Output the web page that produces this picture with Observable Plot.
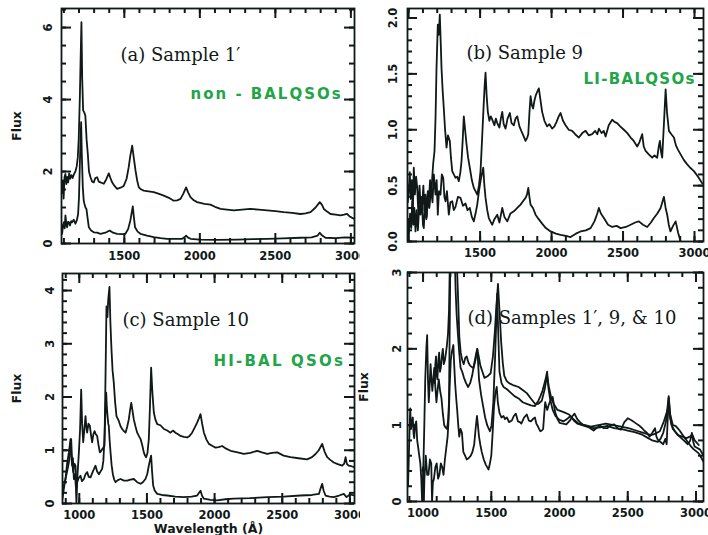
<!DOCTYPE html>
<html><head><meta charset="utf-8">
<script src="https://cdn.jsdelivr.net/npm/d3@7"></script>
<script src="https://cdn.jsdelivr.net/npm/@observablehq/plot@0.6"></script>
<style>
html,body{margin:0;padding:0;background:#fff;}
#wrap{position:relative;width:708px;height:535px;overflow:hidden;background:#fff;}
</style></head><body><div id="wrap"></div><div id="chk" style="position:absolute;left:200px;top:240px;color:red;font:bold 14px monospace"></div>
<script>
// ---------- DATA: [wavelength (Å), flux] ----------
const sample1Upper = [[1088,1.4],[1093,1.75],[1098,1.25],[1104,1.85],[1110,1.93],[1116,1.65],[1122,1.85],[1128,1.7],[1135,1.95],[1142,1.8],[1150,1.9],[1158,1.82],[1166,1.92],[1176,2.0],[1185,2.15],[1192,2.4],[1198,2.9],[1205,3.97],[1211,5.2],[1216,6.15],[1221,4.6],[1227,3.7],[1234,3.65],[1242,3.55],[1250,2.9],[1258,2.5],[1266,2.0],[1276,1.84],[1287,1.72],[1298,1.7],[1308,1.82],[1320,1.84],[1331,1.72],[1342,1.7],[1353,1.68],[1364,1.66],[1380,1.78],[1397,1.95],[1408,1.82],[1419,1.7],[1435,1.6],[1452,1.52],[1475,1.55],[1496,1.6],[1515,1.8],[1529,2.12],[1540,2.45],[1552,2.72],[1562,2.4],[1574,2.03],[1585,1.75],[1596,1.56],[1612,1.5],[1629,1.47],[1660,1.45],[1695,1.43],[1730,1.38],[1761,1.33],[1795,1.27],[1827,1.19],[1850,1.2],[1872,1.24],[1890,1.38],[1909,1.56],[1922,1.42],[1938,1.29],[1960,1.2],[1982,1.15],[2030,1.1],[2070,1.08],[2100,1.02],[2137,0.96],[2180,0.94],[2225,0.92],[2280,0.94],[2335,0.96],[2390,0.94],[2446,0.92],[2500,0.9],[2556,0.87],[2610,0.85],[2666,0.82],[2700,0.84],[2733,0.87],[2766,1.0],[2794,1.15],[2808,1.08],[2821,0.96],[2845,0.88],[2865,0.82],[2900,0.8],[2931,0.78],[2955,0.8],[2975,0.82],[2990,0.76],[3005,0.72],[3020,0.69]];
const sample1Lower = [[1088,0.27],[1094,0.5],[1100,0.59],[1105,0.42],[1110,0.78],[1116,0.55],[1121,0.45],[1127,0.6],[1132,0.6],[1140,0.5],[1148,0.62],[1154,0.59],[1165,0.66],[1176,0.55],[1186,0.65],[1194,0.82],[1200,1.3],[1205,2.12],[1210,2.9],[1214,3.37],[1219,2.4],[1225,1.56],[1231,1.2],[1236,1.1],[1243,1.0],[1249,0.96],[1257,0.7],[1265,0.45],[1280,0.36],[1298,0.31],[1320,0.3],[1342,0.27],[1375,0.3],[1403,0.36],[1425,0.3],[1452,0.27],[1480,0.26],[1507,0.27],[1525,0.4],[1540,0.64],[1556,1.03],[1564,0.7],[1571,0.45],[1588,0.33],[1607,0.27],[1650,0.22],[1695,0.18],[1740,0.15],[1783,0.13],[1840,0.13],[1883,0.13],[1900,0.18],[1909,0.22],[1920,0.17],[1938,0.13],[2000,0.11],[2115,0.1],[2250,0.11],[2350,0.12],[2446,0.13],[2550,0.14],[2666,0.16],[2740,0.17],[2780,0.22],[2794,0.3],[2810,0.22],[2832,0.16],[2900,0.15],[2960,0.17],[3020,0.16]];

const sample9Upper = [[994,0.35],[1001,0.45],[1008,0.62],[1015,0.38],[1022,0.55],[1030,0.3],[1036,0.66],[1044,0.42],[1052,0.58],[1060,0.48],[1068,0.25],[1076,0.5],[1085,0.3],[1095,0.33],[1103,0.5],[1110,0.28],[1118,0.42],[1126,0.22],[1134,0.45],[1141,0.36],[1150,0.55],[1158,0.4],[1165,0.57],[1172,0.7],[1181,0.81],[1188,1.1],[1195,1.55],[1204,1.94],[1211,1.85],[1218,2.03],[1224,1.8],[1230,1.55],[1238,1.35],[1246,1.19],[1255,1.0],[1265,0.84],[1275,0.95],[1288,0.9],[1296,0.75],[1305,0.63],[1316,0.6],[1328,0.57],[1340,0.58],[1351,0.54],[1362,0.62],[1370,0.72],[1378,0.9],[1386,1.12],[1395,1.0],[1405,0.87],[1416,0.75],[1428,0.66],[1442,0.55],[1456,0.48],[1468,0.45],[1480,0.42],[1492,0.5],[1503,0.63],[1515,0.95],[1526,1.25],[1532,1.4],[1538,1.51],[1546,1.3],[1554,1.16],[1565,1.08],[1575,1.12],[1585,1.09],[1600,1.04],[1610,1.1],[1620,1.06],[1635,1.02],[1645,1.1],[1655,1.16],[1665,1.05],[1678,1.01],[1692,1.1],[1708,1.15],[1720,1.06],[1736,1.04],[1748,1.1],[1760,1.12],[1775,1.03],[1788,0.99],[1802,0.95],[1818,0.9],[1830,0.93],[1837,0.96],[1845,1.15],[1853,1.3],[1862,1.22],[1871,1.19],[1880,1.26],[1890,1.31],[1900,1.34],[1911,1.37],[1922,1.27],[1934,1.16],[1950,1.08],[1969,1.03],[1985,1.05],[2004,1.01],[2020,1.03],[2035,1.07],[2050,1.12],[2063,1.15],[2080,1.08],[2098,1.04],[2120,1.0],[2144,0.99],[2165,0.96],[2191,0.93],[2215,0.97],[2238,0.99],[2260,0.95],[2284,0.96],[2305,0.99],[2320,0.96],[2331,1.01],[2350,0.97],[2365,0.99],[2378,0.94],[2400,1.04],[2424,1.09],[2440,1.07],[2459,1.06],[2480,1.03],[2506,1.0],[2530,0.97],[2553,0.93],[2575,0.9],[2599,0.85],[2615,0.89],[2634,0.96],[2645,0.85],[2658,0.81],[2680,0.78],[2704,0.75],[2720,0.77],[2739,0.75],[2750,0.85],[2758,0.9],[2766,0.8],[2774,0.75],[2786,1.05],[2798,1.36],[2808,1.15],[2821,0.99],[2838,0.96],[2856,0.93],[2870,0.86],[2885,0.82],[2903,0.78],[2925,0.73],[2949,0.69],[2970,0.66],[2996,0.63],[3025,0.58],[3054,0.52]];
const sample9Lower = [[994,0.2],[1001,0.06],[1010,0.25],[1018,0.12],[1025,0.36],[1033,0.15],[1040,0.3],[1048,0.09],[1056,0.28],[1065,0.1],[1074,0.32],[1083,0.24],[1092,0.4],[1100,0.15],[1106,0.12],[1115,0.35],[1124,0.2],[1134,0.36],[1145,0.3],[1158,0.48],[1167,0.35],[1176,0.6],[1188,0.42],[1196,0.55],[1204,0.24],[1212,0.45],[1223,0.42],[1232,0.6],[1242,0.57],[1250,0.4],[1258,0.36],[1268,0.45],[1281,0.24],[1292,0.35],[1305,0.36],[1316,0.28],[1328,0.31],[1345,0.4],[1363,0.39],[1380,0.32],[1398,0.34],[1412,0.28],[1428,0.3],[1442,0.22],[1456,0.18],[1468,0.25],[1480,0.33],[1492,0.45],[1503,0.54],[1512,0.6],[1522,0.66],[1530,0.5],[1538,0.39],[1550,0.28],[1561,0.21],[1572,0.18],[1585,0.15],[1600,0.2],[1620,0.24],[1635,0.17],[1655,0.3],[1670,0.22],[1690,0.18],[1712,0.25],[1736,0.27],[1760,0.3],[1783,0.33],[1800,0.36],[1818,0.39],[1828,0.42],[1837,0.48],[1845,0.4],[1853,0.33],[1870,0.3],[1888,0.24],[1910,0.2],[1934,0.16],[1960,0.12],[1993,0.09],[2030,0.07],[2063,0.06],[2100,0.05],[2133,0.04],[2170,0.07],[2203,0.09],[2240,0.1],[2273,0.12],[2300,0.18],[2320,0.25],[2331,0.3],[2345,0.25],[2366,0.21],[2395,0.15],[2424,0.13],[2455,0.14],[2483,0.12],[2520,0.13],[2553,0.15],[2585,0.17],[2611,0.18],[2640,0.15],[2669,0.13],[2695,0.17],[2716,0.21],[2740,0.25],[2763,0.3],[2786,0.4],[2798,0.3],[2809,0.24],[2820,0.15],[2832,0.09],[2850,0.14],[2868,0.18],[2885,0.08],[2903,0.0]];

const sample10Upper = [[876,0.09],[887,0.3],[898,0.46],[910,0.75],[923,0.96],[930,1.1],[935,1.21],[941,0.9],[947,0.71],[953,0.85],[960,0.46],[968,0.55],[975,0.3],[979,0.0],[986,0.5],[997,0.96],[1006,1.4],[1014,2.14],[1021,1.5],[1029,1.15],[1038,1.4],[1046,1.64],[1052,1.45],[1058,1.33],[1068,1.5],[1078,1.46],[1086,1.3],[1095,1.15],[1104,1.3],[1113,1.36],[1122,1.3],[1132,1.27],[1142,1.1],[1152,0.96],[1160,0.98],[1169,1.02],[1178,1.05],[1186,1.08],[1194,2.4],[1201,3.7],[1208,3.5],[1214,3.83],[1223,4.07],[1230,3.4],[1238,2.89],[1246,2.5],[1255,2.27],[1265,1.9],[1275,1.64],[1283,1.6],[1292,1.55],[1305,1.45],[1317,1.4],[1330,1.36],[1342,1.33],[1355,1.45],[1366,1.58],[1375,1.75],[1384,1.89],[1393,1.75],[1403,1.58],[1415,1.45],[1428,1.33],[1440,1.27],[1453,1.21],[1465,1.1],[1477,0.96],[1486,0.9],[1494,0.87],[1504,0.95],[1514,1.21],[1522,1.8],[1531,2.55],[1540,2.1],[1551,1.71],[1562,1.58],[1576,1.49],[1600,1.47],[1625,1.4],[1650,1.37],[1674,1.33],[1692,1.37],[1711,1.33],[1730,1.3],[1748,1.27],[1773,1.25],[1797,1.24],[1815,1.27],[1834,1.33],[1852,1.42],[1871,1.52],[1884,1.6],[1896,1.68],[1908,1.5],[1921,1.33],[1940,1.2],[1958,1.12],[1985,1.08],[2007,1.05],[2030,1.06],[2056,1.08],[2085,1.03],[2118,0.99],[2170,0.96],[2216,0.93],[2265,0.95],[2315,0.99],[2350,0.96],[2389,0.93],[2425,0.95],[2463,0.96],[2510,0.9],[2561,0.87],[2620,0.85],[2684,0.83],[2720,0.87],[2746,0.93],[2770,1.0],[2795,1.12],[2812,0.98],[2832,0.87],[2855,0.82],[2881,0.77],[2910,0.74],[2943,0.71],[2958,0.75],[2968,0.87],[2978,0.74],[2992,0.71],[3010,0.7],[3034,0.68]];
const sample10Lower = [[876,0.21],[887,0.35],[898,0.46],[910,0.6],[923,0.77],[932,0.95],[940,1.21],[947,0.8],[955,0.59],[963,0.75],[972,0.71],[978,0.45],[984,0.4],[996,0.48],[1009,0.52],[1020,0.42],[1034,0.46],[1046,0.55],[1058,0.59],[1070,0.5],[1083,0.49],[1100,0.6],[1120,0.71],[1132,0.6],[1145,0.55],[1157,0.6],[1169,0.65],[1178,0.8],[1186,1.21],[1193,1.7],[1199,2.08],[1204,1.8],[1209,1.64],[1214,1.5],[1218,1.46],[1224,1.2],[1231,0.96],[1239,0.72],[1248,0.55],[1258,0.45],[1268,0.4],[1285,0.44],[1305,0.46],[1330,0.43],[1354,0.43],[1378,0.45],[1403,0.46],[1428,0.4],[1453,0.37],[1470,0.4],[1489,0.46],[1502,0.55],[1514,0.71],[1523,0.82],[1531,0.9],[1538,0.6],[1546,0.34],[1558,0.24],[1576,0.18],[1610,0.16],[1650,0.15],[1710,0.13],[1773,0.12],[1830,0.13],[1871,0.15],[1885,0.2],[1896,0.24],[1908,0.14],[1921,0.09],[1970,0.07],[2019,0.06],[2080,0.08],[2142,0.09],[2260,0.1],[2389,0.12],[2510,0.13],[2635,0.15],[2720,0.16],[2771,0.18],[2783,0.28],[2795,0.37],[2806,0.24],[2820,0.15],[2850,0.13],[2881,0.12],[2920,0.15],[2955,0.18],[2975,0.12],[3000,0.17],[3034,0.15]];

const combined1 = [[1085,1.55],[1090,1.8],[1095,1.9],[1100,1.65],[1105,1.6],[1112,1.85],[1118,1.95],[1124,1.7],[1130,1.75],[1138,1.9],[1145,2.0],[1152,1.8],[1160,1.85],[1168,1.95],[1175,2.05],[1183,2.2],[1190,2.5],[1196,3.1],[1203,4.2],[1210,5.5],[1216,6.5],[1222,4.9],[1228,3.9],[1235,3.75],[1242,3.7],[1250,3.0],[1258,2.6],[1266,2.15],[1276,1.95],[1287,1.85],[1298,1.8],[1309,1.88],[1320,1.9],[1332,1.82],[1345,1.78],[1358,1.76],[1370,1.75],[1384,1.85],[1397,2.0],[1408,1.9],[1420,1.78],[1435,1.7],[1450,1.62],[1472,1.64],[1495,1.68],[1512,1.9],[1525,2.2],[1537,2.55],[1549,2.85],[1560,2.5],[1572,2.1],[1584,1.82],[1595,1.65],[1612,1.58],[1630,1.55],[1665,1.52],[1700,1.5],[1730,1.46],[1760,1.42],[1790,1.35],[1820,1.28],[1845,1.28],[1870,1.32],[1890,1.46],[1909,1.65],[1922,1.5],[1940,1.35],[1960,1.27],[1985,1.2],[2030,1.17],[2070,1.14],[2100,1.08],[2140,1.02],[2185,1.0],[2230,0.98],[2285,1.0],[2340,1.02],[2395,1.0],[2450,0.98],[2505,0.96],[2560,0.93],[2615,0.9],[2670,0.87],[2705,0.89],[2735,0.92],[2765,1.05],[2795,1.22],[2808,1.12],[2820,1.0],[2842,0.93],[2865,0.87],[2900,0.85],[2930,0.83],[2955,0.85],[2975,0.87],[2990,0.8],[3005,0.77],[3020,0.74]];
const combined9 = [[994,0.4],[1000,0.45],[1006,0.0],[1010,0.3],[1020,0.6],[1030,0.35],[1040,0.35],[1050,0.55],[1060,0.5],[1066,0.0],[1072,0.25],[1080,0.3],[1090,0.45],[1100,0.5],[1110,0.3],[1120,0.35],[1130,0.5],[1140,0.45],[1150,0.35],[1160,0.55],[1170,0.7],[1180,0.85],[1188,1.1],[1195,1.5],[1203,1.85],[1210,1.95],[1222,2.05],[1228,1.8],[1235,1.55],[1243,1.35],[1250,1.2],[1258,1.0],[1265,0.85],[1275,0.95],[1285,0.9],[1295,0.65],[1308,0.6],[1320,0.55],[1335,0.57],[1350,0.6],[1362,0.65],[1375,0.75],[1385,0.95],[1395,1.12],[1402,1.0],[1410,0.85],[1420,0.74],[1430,0.65],[1445,0.55],[1460,0.48],[1470,0.45],[1480,0.42],[1490,0.5],[1500,0.6],[1510,0.9],[1520,1.25],[1530,1.42],[1540,1.5],[1548,1.3],[1560,1.16],[1575,1.1],[1590,1.12],[1600,1.08],[1615,1.1],[1630,1.04],[1650,1.06],[1665,1.12],[1680,1.15],[1695,1.05],[1710,1.04],[1720,1.02],[1740,1.1],[1760,1.14],[1775,1.06],[1790,1.05],[1805,1.08],[1820,1.1],[1830,1.02],[1840,0.99],[1850,0.95],[1860,0.92],[1870,0.93],[1880,0.95],[1888,1.15],[1895,1.3],[1902,1.25],[1910,1.2],[1920,1.26],[1930,1.31],[1940,1.34],[1950,1.37],[1960,1.25],[1970,1.16],[1985,1.08],[2000,1.03],[2025,1.02],[2050,1.01],[2065,1.04],[2080,1.07],[2095,1.12],[2110,1.15],[2130,1.08],[2150,1.04],[2175,1.0],[2200,0.99],[2225,0.96],[2250,0.93],[2275,0.97],[2300,0.99],[2325,0.96],[2350,0.96],[2375,1.0],[2400,1.01],[2425,0.96],[2450,0.94],[2475,1.04],[2500,1.09],[2530,1.06],[2555,1.03],[2580,1.0],[2600,0.97],[2620,0.93],[2640,0.9],[2660,0.85],[2680,0.9],[2700,0.96],[2710,0.85],[2720,0.81],[2740,0.78],[2760,0.75],[2775,0.82],[2785,0.75],[2792,1.05],[2800,1.36],[2810,1.15],[2830,1.0],[2850,0.99],[2865,0.96],[2880,0.93],[2910,0.85],[2940,0.78],[2960,0.73],[2980,0.69],[3000,0.66],[3020,0.63],[3040,0.57],[3055,0.52]];
const combined10 = [[890,0.2],[896,0.6],[902,1.0],[906,1.22],[912,0.95],[918,1.05],[925,1.1],[930,0.9],[935,0.83],[942,1.0],[950,1.05],[957,0.8],[965,0.7],[972,0.6],[980,0.5],[987,0.3],[993,0.0],[1000,0.3],[1008,0.9],[1016,1.6],[1024,2.0],[1030,2.18],[1036,1.6],[1042,1.3],[1049,1.55],[1055,1.8],[1062,1.6],[1068,1.45],[1075,1.6],[1082,1.75],[1090,1.5],[1098,1.3],[1106,1.45],[1115,1.6],[1125,1.45],[1135,1.35],[1145,1.15],[1155,1.0],[1165,0.97],[1175,0.95],[1183,1.05],[1190,1.3],[1196,2.4],[1202,3.6],[1207,3.4],[1212,3.9],[1222,4.1],[1230,3.4],[1238,2.8],[1246,2.45],[1255,2.2],[1265,1.95],[1275,1.75],[1287,1.7],[1300,1.62],[1315,1.55],[1330,1.5],[1345,1.55],[1360,1.65],[1372,1.78],[1385,1.9],[1397,2.0],[1404,1.8],[1410,1.6],[1425,1.4],[1440,1.25],[1455,1.1],[1470,1.0],[1482,0.95],[1490,0.92],[1502,1.0],[1515,1.3],[1528,1.9],[1543,2.72],[1551,2.2],[1560,1.7],[1575,1.55],[1590,1.5],[1615,1.47],[1640,1.43],[1670,1.38],[1700,1.35],[1730,1.3],[1760,1.28],[1790,1.26],[1820,1.25],[1845,1.32],[1860,1.38],[1875,1.45],[1890,1.55],[1900,1.62],[1909,1.7],[1918,1.5],[1930,1.35],[1950,1.2],[1970,1.12],[2000,1.07],[2030,1.05],[2055,1.08],[2080,1.12],[2105,1.06],[2130,1.02],[2165,1.0],[2200,0.98],[2250,0.96],[2300,0.97],[2350,0.99],[2400,0.96],[2450,0.95],[2500,0.93],[2550,0.91],[2600,0.88],[2640,0.84],[2680,0.8],[2700,0.79],[2720,0.78],[2740,0.82],[2760,0.9],[2780,1.05],[2800,1.38],[2812,1.1],[2830,0.95],[2855,0.9],[2880,0.85],[2910,0.8],[2940,0.75],[2958,0.8],[2970,0.9],[2980,0.78],[2990,0.72],[3010,0.7],[3030,0.68],[3055,0.6]];

// ---------- TICKS & LABELS ----------
const xMajorTicks = [1000, 1500, 2000, 2500, 3000];
const xMinorTicks = [900, 1000, 1100, 1200, 1300, 1400, 1500, 1600, 1700, 1800, 1900, 2000, 2100, 2200, 2300, 2400, 2500, 2600, 2700, 2800, 2900, 3000];
const xLabelsAB = [1500, 2000, 2500, 3000];
const xLabelsCD = [1000, 1500, 2000, 2500, 3000];
const yMajorA = [0, 2, 4, 6];
const yMajorB = [0, 0.5, 1.0, 1.5, 2.0];
const yMajorC = [0, 1, 2, 3, 4];
const yMajorD = [0, 1, 2, 3];
const titles = ["(a) Sample 1\u2032", "(b) Sample 9", "(c) Sample 10", "(d) Samples 1\u2032, 9, & 10"];
const notes = ["non - BALQSOs", "LI-BALQSOs", "HI-BAL QSOs"];
const yTitle = "Flux";
const xTitle = "Wavelength (\u00c5)";

const INK = "#101818";
const GREEN = "#22a548";

const panels = [
  {left:0, top:0, width:360, height:265, m:[8,6,22,61], xDomain:[1084,3024], yDomain:[0,6.53],
   curves:[sample1Upper, sample1Lower], yMajor:yMajorA, yStep:0.5, yFmt:d3.format("d"),
   xLabels:xLabelsAB, xPad:8, yPad:13, title:titles[0], tdx:59, tdy:52,
   note:notes[0], ndx:129, ndy:90, nls:2.0, flux:true, fluxDx:-45},
  {left:350, top:0, width:358, height:265, m:[8,5,24,57], xDomain:[992,3063], yDomain:[0,2.085],
   curves:[sample9Upper, sample9Lower], yMajor:yMajorB, yStep:0.1, yFmt:d3.format(".1f"),
   xLabels:xLabelsAB, xPad:7, yPad:14, title:titles[1], tdx:59, tdy:50,
   note:notes[1], ndx:176, ndy:75, nls:1.3, flux:false},
  {left:0, top:265, width:360, height:270, m:[8,6,32,62], xDomain:[876,3034], yDomain:[0,4.32],
   curves:[sample10Upper, sample10Lower], yMajor:yMajorC, yStep:0.2, yFmt:d3.format("d"),
   xLabels:xLabelsCD, xPad:7, yPad:12, title:titles[2], tdx:60, tdy:52,
   note:notes[2], ndx:151, ndy:92, nls:2.2, flux:true, fluxDx:-46, xTitle:true},
  {left:350, top:265, width:358, height:270, m:[7,5,34,57], xDomain:[886,3055], yDomain:[0,3],
   curves:[combined1, combined9, combined10], yMajor:yMajorD, yStep:0.2, yFmt:d3.format("d"),
   xLabels:xLabelsCD, xPad:7, yPad:10, title:titles[3], tdx:60, tdy:51,
   note:null, flux:true, fluxDx:-44}
];

const wrap = document.getElementById("wrap");
let tickCount = 0;
for (const p of panels) {
  const [xLo, xHi] = p.xDomain, [yLo, yHi] = p.yDomain;
  const W = p.width - p.m[1] - p.m[3];
  const H = p.height - p.m[0] - p.m[2];
  const inX = t => t >= xLo && t <= xHi;
  const yMinor = d3.range(0, Math.floor(yHi / p.yStep + 1e-6) + 1).map(i => +(i * p.yStep).toFixed(3));
  const tk = {stroke: INK, strokeWidth: 2};
  const dyPx = (yHi - yLo) / H, dxPx = (xHi - xLo) / W; // data units per pixel
  const marks = [];
  for (const c of p.curves) marks.push(Plot.line(c, {x: d => d[0], y: d => d[1], stroke: INK, strokeWidth: 1.8, strokeLinejoin: "round", clip: true}));
  // inward ticks on all four sides
  for (const [ticks, L] of [[xMinorTicks.filter(inX), 5], [xMajorTicks.filter(inX), 10]]) {
    marks.push(Plot.ruleX(ticks, {...tk, x: d => d, y1: yLo, y2: yLo + L * dyPx}));
    marks.push(Plot.ruleX(ticks, {...tk, x: d => d, y1: yHi, y2: yHi - L * dyPx}));
  }
  for (const [ticks, L] of [[yMinor, 5], [p.yMajor, 10]]) {
    marks.push(Plot.ruleY(ticks, {...tk, y: d => d, x1: xLo, x2: xLo + L * dxPx}));
    marks.push(Plot.ruleY(ticks, {...tk, y: d => d, x1: xHi, x2: xHi - L * dxPx}));
  }
  marks.push(Plot.frame({stroke: INK, strokeWidth: 1.8}));
  marks.push(Plot.axisX(p.xLabels, {anchor: "bottom", tickSize: 0, tickPadding: p.xPad, label: null, fill: INK, stroke: "none", tickFormat: d => String(d)}));
  marks.push(Plot.axisY(p.yMajor, {anchor: "left", tickSize: 0, tickPadding: p.yPad, label: null, fill: INK, stroke: "none", rotate: -90, textAnchor: "middle", tickFormat: p.yFmt}));
  marks.push(Plot.text([p.title], {text: d => d, frameAnchor: "top-left", dx: p.tdx, dy: p.tdy, textAnchor: "start", lineAnchor: "bottom", fontFamily: "DejaVu Serif", fontWeight: "normal", fontSize: 18, fill: INK}));
  if (p.note) marks.push(Plot.text([p.note], {text: d => d, frameAnchor: "top-left", dx: p.ndx, dy: p.ndy, textAnchor: "start", lineAnchor: "bottom", fontFamily: "DejaVu Sans", fontWeight: "bold", fontSize: 15, fill: GREEN}));
  if (p.flux) marks.push(Plot.text([yTitle], {text: d => d, frameAnchor: "left", dx: p.fluxDx, rotate: -90, textAnchor: "middle", fontSize: 12.5, fill: INK}));
  if (p.xTitle) marks.push(Plot.text([xTitle], {text: d => d, frameAnchor: "bottom", dy: 25, lineAnchor: "middle", fontSize: 12.5, fill: INK}));

  const svg = Plot.plot({
    width: p.width, height: p.height,
    marginTop: p.m[0], marginRight: p.m[1], marginBottom: p.m[2], marginLeft: p.m[3],
    x: {domain: p.xDomain}, y: {domain: p.yDomain},
    style: {fontFamily: "DejaVu Sans", fontWeight: "bold", fontSize: "11.5px", background: "transparent", overflow: "hidden", color: INK},
    marks
  });
  svg.style.position = "absolute";
  svg.style.left = p.left + "px";
  svg.style.top = p.top + "px";
  d3.select(svg).selectAll("text").filter(function() { return notes.includes(this.textContent); })
    .attr("letter-spacing", p.nls + "px");
  wrap.appendChild(svg);
  tickCount += svg.querySelectorAll('g[aria-label="rule"] line').length;
}
// self-check: only shows something if no tick lines reached the page
if (tickCount === 0) document.getElementById("chk").textContent = "no tick lines";
</script></body></html>
